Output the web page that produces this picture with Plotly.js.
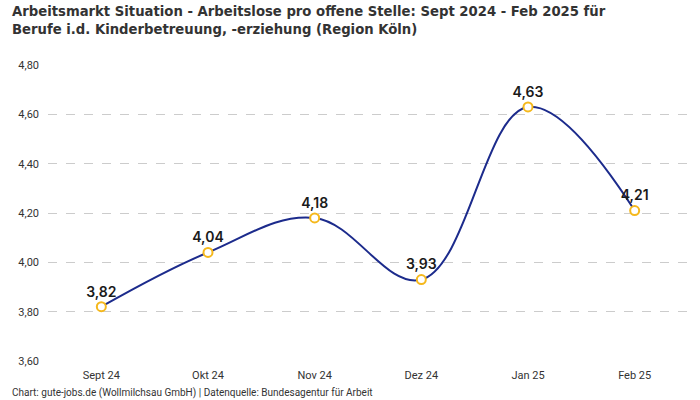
<!DOCTYPE html>
<html><head><meta charset="utf-8">
<script src="https://cdn.plot.ly/plotly-3.0.1.min.js"></script>
<style>body{margin:0;background:#fff}#c{width:700px;height:400px}</style>
</head><body><div id="c"></div>
<script>
const categories = ["Sept 24","Okt 24","Nov 24","Dez 24","Jan 25","Feb 25"];
const values = [3.82, 4.04, 4.18, 3.93, 4.63, 4.21];
const yTicks = [3.6, 3.8, 4.0, 4.2, 4.4, 4.6, 4.8];
const titleLines = ['Arbeitsmarkt Situation - Arbeitslose pro offene Stelle: Sept 2024 - Feb 2025 für', 'Berufe i.d. Kinderbetreuung, -erziehung (Region Köln)'];
const fmt = v => v.toFixed(2).replace('.', ',');
const trace = {
  x: categories, y: values, type: 'scatter', mode: 'lines+markers+text',
  line: {shape: 'spline', smoothing: 1.1, color: '#1c2b8c', width: 2},
  marker: {symbol: 'circle', size: 9, color: '#ffffff', line: {color: '#f5b81c', width: 2}},
  text: values.map(fmt), textposition: 'top center',
  textfont: {family: 'Inter, Roboto, sans-serif', size: 14, color: '#1a1a1a', weight: 600},
  hoverinfo: 'none', cliponaxis: false
};
const layout = {
  width: 700, height: 400,
  margin: {l: 48, r: 12, t: 65, b: 39},
  paper_bgcolor: '#fff', plot_bgcolor: '#fff',
  separators: ',.',
  showlegend: false,
  xaxis: {
    type: 'category', range: [-0.5, 5.5], showgrid: false, zeroline: false, showline: false,
    ticks: '', tickfont: {family: 'Roboto, sans-serif', size: 11, color: '#333'}, ticklabelstandoff: 6
  },
  yaxis: {
    range: [3.6, 4.8], tickvals: yTicks, ticktext: yTicks.map(fmt),
    showgrid: true, gridcolor: '#cccccc', griddash: 'dash', gridwidth: 1,
    zeroline: false, showline: false, ticks: '',
    tickfont: {family: 'Roboto, sans-serif', size: 11, color: '#333'}, ticklabelstandoff: 8
  },
  annotations: [
    {
      text: '<b>' + titleLines[0] + '</b>', xref: 'paper', yref: 'paper', x: -0.059, y: 1 + (65 - 10) / 296,
      xanchor: 'left', yanchor: 'middle', showarrow: false,
      font: {family: '"DejaVu Sans Condensed", sans-serif', size: 14.7, color: '#333'}
    },
    {
      text: '<b>' + titleLines[1] + '</b>', xref: 'paper', yref: 'paper', x: -0.059, y: 1 + (65 - 29) / 296,
      xanchor: 'left', yanchor: 'middle', showarrow: false,
      font: {family: '"DejaVu Sans Condensed", sans-serif', size: 14.7, color: '#333'}
    },
    {
      text: 'Chart: gute-jobs.de (Wollmilchsau GmbH) | Datenquelle: Bundesagentur für Arbeit',
      xref: 'paper', yref: 'paper', x: -0.059, y: (361 - 393) / 296, xanchor: 'left', yanchor: 'middle',
      showarrow: false, font: {family: 'Roboto, sans-serif', size: 10, color: '#333'}
    }
  ]
};
Plotly.newPlot('c', [trace], layout, {displayModeBar: false, staticPlot: true});
</script></body></html>
